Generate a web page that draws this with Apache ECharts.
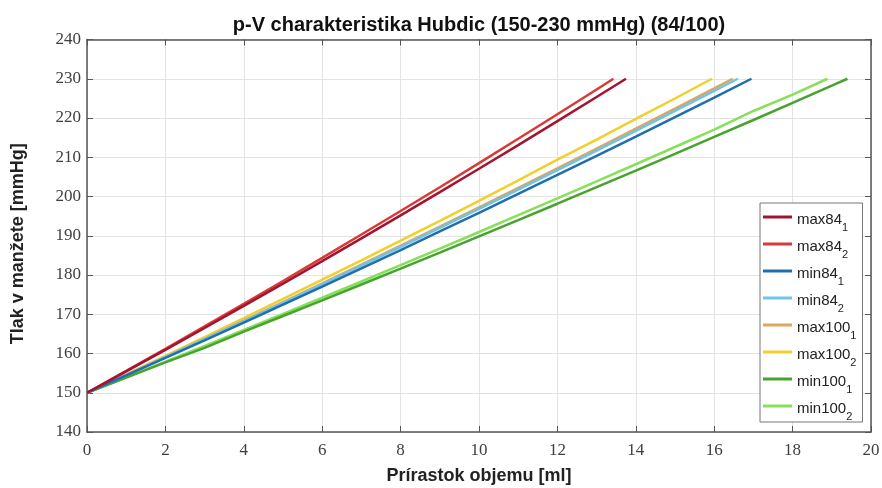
<!DOCTYPE html>
<html><head><meta charset="utf-8">
<script src="https://cdn.jsdelivr.net/npm/echarts@6/dist/echarts.min.js"></script>
<style>html,body{margin:0;padding:0;background:#fff}#c{width:882px;height:488px}</style>
</head><body><div id="c"></div>
<script>
// ---- data ----
const seriesNames = ['max84_1','max84_2','min84_1','min84_2','max100_1','max100_2','min100_1','min100_2'];
const seriesColors = ['#A2142F','#D93A36','#1F6FAE','#6EC3EA','#DDA65A','#F2CF2A','#48A22E','#86E05A'];

const x_max84_1 = [0,1,2,3,4,5,6,7,8,9,10,11,12,13,13.75];
const y_max84_1 = [150,155.44,160.94,166.50,172.12,177.80,183.53,189.33,195.18,201.10,207.07,213.10,219.20,225.35,230];
const x_max84_2 = [0,1,2,3,4,5,6,7,8,9,10,11,12,13,13.43];
const y_max84_2 = [150,155.57,161.20,166.90,172.66,178.47,184.36,190.31,196.31,202.37,208.50,214.70,220.95,227.27,230];
const x_min84_1 = [0,1,2,3,4,5,6,7,8,9,10,11,12,13,14,15,16,16.95];
const y_min84_1 = [150,154.41,158.86,163.34,167.87,172.44,177.04,181.68,186.36,191.09,195.85,200.64,205.48,210.36,215.28,220.23,225.22,230];
const x_min84_2 = [0,1,2,3,4,5,6,7,8,9,10,11,12,13,14,15,16,16.6];
const y_min84_2 = [150,154.50,159.05,163.63,168.26,172.92,177.63,182.36,187.15,191.98,196.85,201.76,206.71,211.70,216.73,221.80,226.92,230];
const x_max100_1 = [0,1,2,3,4,5,6,7,8,9,10,11,12,13,14,15,16,16.47];
const y_max100_1 = [150,154.54,159.12,163.74,168.40,173.10,177.84,182.63,187.46,192.33,197.23,202.19,207.18,212.21,217.29,222.40,227.56,230];
const x_max100_2 = [0,1,2,3,4,5,6,7,8,9,10,11,12,13,14,15,15.94];
const y_max100_2 = [150,154.69,159.42,164.20,169.03,173.89,178.80,183.75,188.75,193.79,198.88,204.11,209.39,214.51,219.76,224.97,230];
const x_min100_1 = [0,1,2,3,4,5,6,7,8,9,10,11,12,13,14,15,16,17,18,19,19.4];
const y_min100_1 = [150,153.85,157.73,161.44,165.57,169.55,173.54,177.58,181.63,185.72,189.84,193.99,198.16,202.37,206.61,210.88,215.17,219.49,223.86,228.24,230];
const x_min100_2 = [0,1,2,3,4,5,6,7,8,9,10,11,12,13,14,15,16,17,18,18.89];
const y_min100_2 = [150,153.95,157.94,161.96,166.00,170.09,174.20,178.34,182.51,186.72,190.96,195.23,199.52,203.86,208.22,212.61,217.03,221.79,225.98,230];

const xTicks = [0,2,4,6,8,10,12,14,16,18,20];
const yTicks = [140,150,160,170,180,190,200,210,220,230,240];

const titleText = 'p-V charakteristika Hubdic (150-230 mmHg) (84/100)';
const xTitle = 'Prírastok objemu [ml]';
const yTitle = 'Tlak v manžete [mmHg]';

const xs = [x_max84_1,x_max84_2,x_min84_1,x_min84_2,x_max100_1,x_max100_2,x_min100_1,x_min100_2];
const ys = [y_max84_1,y_max84_2,y_min84_1,y_min84_2,y_max100_1,y_max100_2,y_min100_1,y_min100_2];

const axisCol = '#555';
const tickFont = {fontFamily:'Liberation Serif', fontSize:17, color:'#404040'};

const series = seriesNames.map((n,i)=>({
  name:n, type:'line', symbol:'none', showSymbol:false,
  data: xs[i].map((x,k)=>[x, ys[i][k]]),
  lineStyle:{width:2.5, color:seriesColors[i]},
  itemStyle:{color:seriesColors[i]},
  z: 10 - i, animation:false
}));

const chart = echarts.init(document.getElementById('c'), null, {renderer:'canvas'});
chart.setOption({
  animation:false,
  backgroundColor:'#fff',
  title:{text:titleText, left:474, top:10, textAlign:'center',
    textStyle:{fontFamily:'Liberation Sans', fontWeight:'bold', fontSize:20, color:'#111'}},
  grid:{left:87, right:11, top:39.5, bottom:56, show:false, containLabel:false, outerBoundsMode:'none'},
  xAxis:[{
    type:'value', min:0, max:20, interval:2, position:'bottom',
    name:xTitle, nameLocation:'middle', nameGap:35,
    nameTextStyle:{fontFamily:'Liberation Sans', fontWeight:'bold', fontSize:18, color:'#222'},
    axisLine:{show:true, onZero:false, lineStyle:{color:axisCol, width:1.5}},
    axisTick:{show:true, inside:true, length:6, lineStyle:{color:axisCol}},
    axisLabel:Object.assign({margin:10}, tickFont),
    splitLine:{show:true, lineStyle:{color:'#e3e3e3', width:1}}
  },{
    type:'value', min:0, max:20, interval:2, position:'top',
    axisLine:{show:true, onZero:false, lineStyle:{color:axisCol, width:1.5}},
    axisTick:{show:true, inside:true, length:6, lineStyle:{color:axisCol}},
    axisLabel:{show:false}, splitLine:{show:false}
  }],
  yAxis:[{
    type:'value', min:140, max:240, interval:10, position:'left',
    name:yTitle, nameLocation:'middle', nameGap:60, nameRotate:90,
    nameTextStyle:{fontFamily:'Liberation Sans', fontWeight:'bold', fontSize:18, color:'#222', padding:[0,16,0,0]},
    axisLine:{show:true, onZero:false, lineStyle:{color:axisCol, width:1.5}},
    axisTick:{show:true, inside:true, length:6, lineStyle:{color:axisCol}},
    axisLabel:Object.assign({margin:6}, tickFont),
    splitLine:{show:true, lineStyle:{color:'#e3e3e3', width:1}}
  },{
    type:'value', min:140, max:240, interval:10, position:'right',
    axisLine:{show:true, onZero:false, lineStyle:{color:axisCol, width:1.5}},
    axisTick:{show:true, inside:true, length:6, lineStyle:{color:axisCol}},
    axisLabel:{show:false}, splitLine:{show:false}
  }],
  legend:{
    orient:'vertical', left:760, top:203,
    padding:[5,6,0,3], itemGap:2, itemWidth:29, itemHeight:3, icon:'rect',
    backgroundColor:'#fff', borderColor:'#777', borderWidth:1,
    data: seriesNames,
    formatter:(n)=>{const p=n.split('_'); return '{b|'+p[0]+'}{s|'+p[1]+'}';},
    textStyle:{color:'#222', rich:{
      b:{fontFamily:'Liberation Sans', fontSize:15, color:'#222', lineHeight:18, verticalAlign:'top', padding:[4,0,4,0]},
      s:{fontFamily:'Liberation Sans', fontSize:11, color:'#222', lineHeight:12, verticalAlign:'top', padding:[14,0,0,0]}
    }}
  },
  series: series
});
</script>
</body></html>
